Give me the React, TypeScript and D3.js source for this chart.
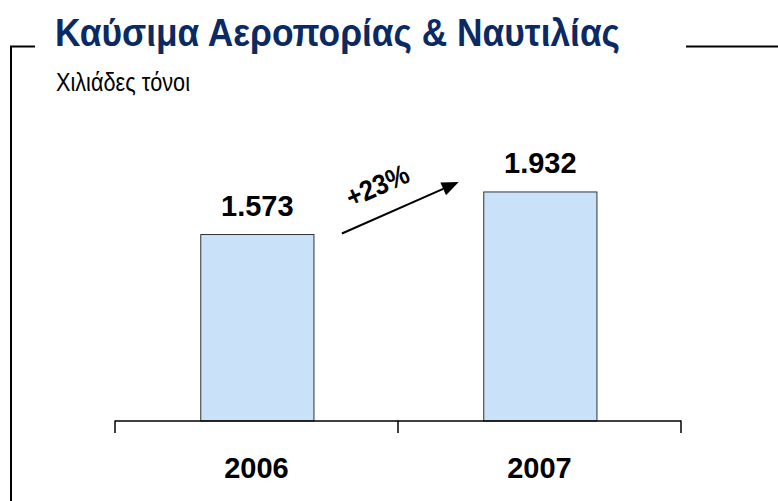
import React from "react";
import * as d3 from "d3";

const categories = ["2006", "2007"];
const values = [1573, 1932];
const valueLabels = ["1.573", "1.932"];
const growthLabel = "+23%";
const title = "Καύσιμα Αεροπορίας & Ναυτιλίας";
const subtitle = "Χιλιάδες τόνοι";

const W = 778;
const H = 501;

export default function App() {
  const x = d3.scaleBand<string>().domain(categories).range([115, 681]).paddingInner(0).paddingOuter(0);
  const y = d3.scaleLinear().domain([0, 2000]).range([421, 183.9]);
  const bw = x.bandwidth() * 0.4;
  const barX = (c: string) => (x(c) as number) + x.bandwidth() * 0.303;

  const b1Right = barX(categories[0]) + bw;
  const b2Left = barX(categories[1]);
  const ax1 = b1Right + 28;
  const ay1 = y(values[0]) - 1;
  const ax2 = b2Left - 25;
  const ay2 = y(values[1]) - 10;
  const ang = (Math.atan2(ay2 - ay1, ax2 - ax1) * 180) / Math.PI;
  const L = 17, hw = 7;
  const ux = Math.cos((ang * Math.PI) / 180), uy = Math.sin((ang * Math.PI) / 180);
  const bx = ax2 - ux * L, by = ay2 - uy * L;
  const head = `M${ax2},${ay2} L${bx - uy * hw},${by + ux * hw} L${bx + uy * hw},${by - ux * hw} Z`;
  const tcx = (ax1 + ax2) / 2 - 22;
  const tcy = (ay1 + ay2) / 2 - 20;

  const ticks = [115, ...categories.map((c) => (x(c) as number) + x.bandwidth())];

  return (
    <svg width={W} height={H} style={{ position: "absolute", left: 0, top: 0, background: "#fff" }}
      fontFamily="'Liberation Sans', Arial, sans-serif">
      <path d="M35,46.5 L11,46.5 L11,501" fill="none" stroke="#000" strokeWidth={2} />
      <line x1={686} x2={778} y1={46.5} y2={46.5} stroke="#000" strokeWidth={2} />
      <text x={55} y={46} fontSize={38} fontWeight="bold" fill="#0b2a63" textLength={565} lengthAdjust="spacingAndGlyphs">{title}</text>
      <text x={56} y={91} fontSize={26} fill="#000" textLength={134} lengthAdjust="spacingAndGlyphs">{subtitle}</text>

      {categories.map((c, i) => (
        <g key={c}>
          <rect x={barX(c)} y={y(values[i])} width={bw} height={y(0) - y(values[i])} fill="#c9e1f9" stroke="#333" strokeWidth={1} />
          <text x={barX(c) + bw / 2} y={y(values[i]) - 18.5} textAnchor="middle" fontSize={29} fontWeight="bold">{valueLabels[i]}</text>
          <text x={(x(c) as number) + x.bandwidth() / 2} y={478} textAnchor="middle" fontSize={29} fontWeight="bold">{c}</text>
        </g>
      ))}

      <line x1={115} x2={681} y1={421} y2={421} stroke="#000" strokeWidth={1.5} />
      {ticks.map((t, i) => (
        <line key={i} x1={t} x2={t} y1={420.5} y2={433} stroke="#000" strokeWidth={1.5} />
      ))}

      <line x1={ax1} y1={ay1} x2={bx} y2={by} stroke="#000" strokeWidth={2} />
      <path d={head} fill="#000" />
      <text x={tcx} y={tcy} transform={`rotate(${ang},${tcx},${tcy})`} textAnchor="middle" dominantBaseline="middle" fontSize={28} fontWeight="bold" textLength={66} lengthAdjust="spacingAndGlyphs">{growthLabel}</text>
    </svg>
  );
}
